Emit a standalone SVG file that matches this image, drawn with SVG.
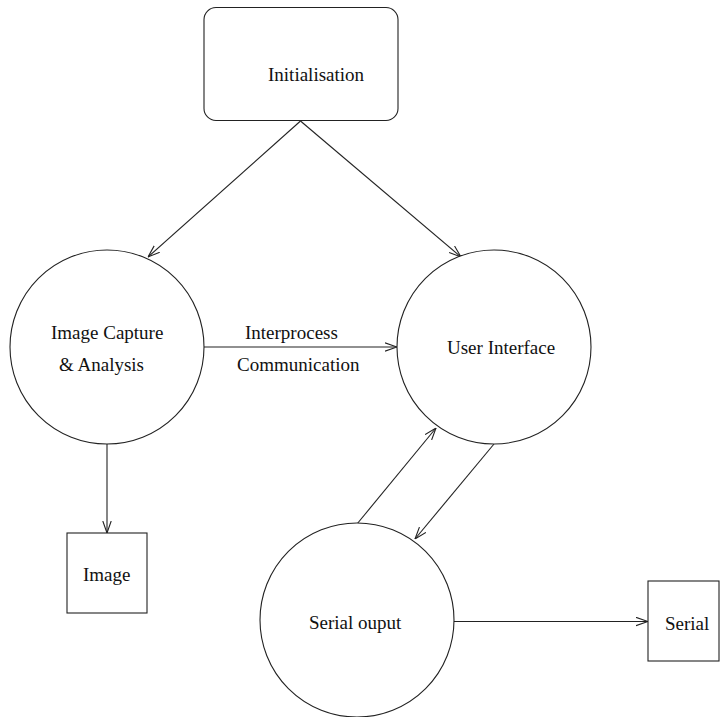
<svg xmlns="http://www.w3.org/2000/svg" width="720" height="717" viewBox="0 0 720 717">
  <style>
    .shape { fill: #fff; stroke: #222; stroke-width: 1.1; }
    .edge { fill: none; stroke: #222; stroke-width: 1.1; }
    .lbl { font-family: "Liberation Serif", "Times New Roman", serif; font-size: 19px; fill: #111; }
  </style>
  <defs>
    <marker id="arrow" viewBox="0 0 12 10" refX="12" refY="5" markerWidth="12" markerHeight="10" markerUnits="userSpaceOnUse" orient="auto">
      <path d="M0,0.8 L12,5 L0,9.2" fill="none" stroke="#222" stroke-width="1.1"/>
    </marker>
  </defs>
  <rect width="720" height="717" fill="#fff"/>

  <g id="connectors">
    <line class="edge" x1="300.5" y1="121" x2="148" y2="257" marker-end="url(#arrow)"/>
    <line class="edge" x1="300.5" y1="121" x2="461" y2="257" marker-end="url(#arrow)"/>
    <line class="edge" x1="204" y1="347" x2="397" y2="347" marker-end="url(#arrow)"/>
    <line class="edge" x1="107" y1="444" x2="107" y2="533" marker-end="url(#arrow)"/>
    <line class="edge" x1="357" y1="524" x2="436" y2="428" marker-end="url(#arrow)"/>
    <line class="edge" x1="494" y1="444" x2="415" y2="539" marker-end="url(#arrow)"/>
    <line class="edge" x1="454" y1="621.5" x2="648" y2="621.5" marker-end="url(#arrow)"/>
    <text class="lbl" x="245" y="339">Interprocess</text>
    <text class="lbl" x="237" y="371">Communication</text>
  </g>

  <g id="initialisation">
    <rect class="shape" x="204" y="7.5" width="194" height="113" rx="12" ry="12"/>
    <text class="lbl" x="268" y="81">Initialisation</text>
  </g>

  <g id="image-capture">
    <circle class="shape" cx="107" cy="347" r="97"/>
    <text class="lbl" x="51" y="339">Image Capture</text>
    <text class="lbl" x="59" y="371">&amp; Analysis</text>
  </g>

  <g id="user-interface">
    <circle class="shape" cx="494" cy="347" r="97"/>
    <text class="lbl" x="447" y="354">User Interface</text>
  </g>

  <g id="image">
    <rect class="shape" x="67" y="533" width="80" height="80"/>
    <text class="lbl" x="83" y="581">Image</text>
  </g>

  <g id="serial-output">
    <circle class="shape" cx="357" cy="620" r="97"/>
    <text class="lbl" x="309" y="629">Serial ouput</text>
  </g>

  <g id="serial">
    <rect class="shape" x="648" y="581" width="71" height="80"/>
    <text class="lbl" x="665" y="630">Serial</text>
  </g>
</svg>
